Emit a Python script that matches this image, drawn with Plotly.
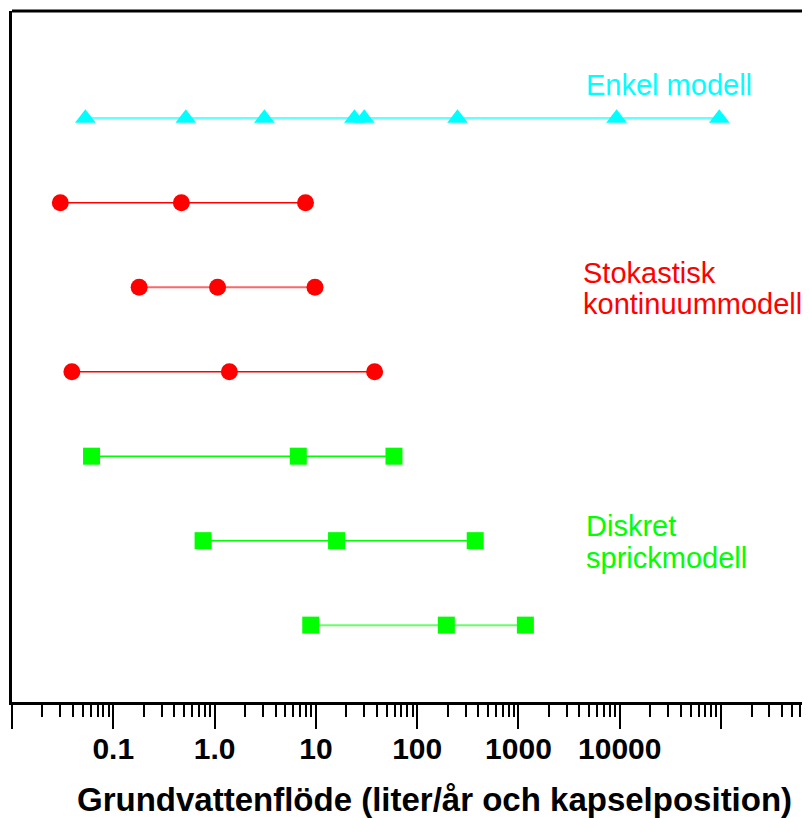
import plotly.graph_objects as go

# Data (liter/år per kapselposition)
enkel = [0.053, 0.52, 3.1, 24, 30, 250, 9300, 96000]
stok_1 = [0.030, 0.47, 7.9]
stok_2 = [0.18, 1.07, 9.8]
stok_3 = [0.039, 1.40, 38]
disk_1 = [0.061, 6.7, 59]
disk_2 = [0.77, 16, 374]
disk_3 = [8.9, 194, 1170]

row_y = {"enkel": 7, "stok_1": 6, "stok_2": 5, "stok_3": 4,
         "disk_1": 3, "disk_2": 2, "disk_3": 1}

tick_vals = [0.01, 0.1, 1, 10, 100, 1000, 10000, 100000]
tick_text = ["", "0.1", "1.0", "10", "100", "1000", "10000", ""]

CYAN = "#00ffff"
RED = "#ff0000"
GREEN = "#00ff00"

fig = go.Figure()


def add_row(vals, y, color, line_color, symbol, size, lw):
    fig.add_trace(go.Scatter(
        x=vals, y=[y] * len(vals), mode="lines+markers",
        line=dict(color=line_color, width=lw),
        marker=dict(color=color, symbol=symbol, size=size),
        showlegend=False, hoverinfo="x"))


add_row(enkel, row_y["enkel"], CYAN, "#66ffff", "triangle-up", 18, 2.5)
add_row(stok_1, row_y["stok_1"], RED, RED, "circle", 17, 1.5)
add_row(stok_2, row_y["stok_2"], RED, "#ff6666", "circle", 17, 2)
add_row(stok_3, row_y["stok_3"], RED, RED, "circle", 17, 1.5)
add_row(disk_1, row_y["disk_1"], GREEN, GREEN, "square", 17, 1.5)
add_row(disk_2, row_y["disk_2"], GREEN, GREEN, "square", 17, 1.5)
add_row(disk_3, row_y["disk_3"], GREEN, "#66ff66", "square", 17, 2)

minor_vals = [m * 10 ** e for e in range(-2, 6) for m in range(2, 10)]

FONT = "Liberation Sans, Arial"

fig.update_xaxes(
    type="log", range=[-2, 5.957],
    tickvals=tick_vals, ticktext=tick_text,
    ticks="outside", ticklen=24, tickwidth=2, tickcolor="black",
    ticklabelstandoff=-6,
    showline=True, linewidth=3, linecolor="black",
    showgrid=False, zeroline=False,
    tickfont=dict(family=FONT, size=30, color="black", weight="bold"),
    minor=dict(tickvals=minor_vals, ticks="outside", ticklen=12, tickwidth=1.5,
               tickcolor="black", showgrid=False),
)
fig.update_yaxes(
    range=[0.09, 8.27], showticklabels=False, ticks="",
    showline=True, linewidth=3, linecolor="black",
    showgrid=False, zeroline=False,
)

fig.add_shape(type="line", xref="paper", yref="paper", x0=0, x1=1, y0=1, y1=1,
              line=dict(color="black", width=3))

lbl = dict(family=FONT, size=29)
PX = 806.0


def label(text, page_x, y, color):
    fig.add_annotation(x=(page_x - 12) / PX, y=y, xref="paper", yref="y",
                       xanchor="left", yanchor="middle", text=text,
                       showarrow=False, font=dict(**lbl, color=color))


label("Enkel modell", 584, 7.39, CYAN)
label("Stokastisk", 581, 5.17, RED)
label("kontinuummodell", 581, 4.80, RED)
label("Diskret", 584, 2.17, GREEN)
label("sprickmodell", 584, 1.80, GREEN)

fig.add_annotation(x=0.5248, y=-0.1418, xref="paper", yref="paper", showarrow=False,
                   xanchor="center", yanchor="middle",
                   text="Grundvattenflöde (liter/år och kapselposition)",
                   font=dict(family=FONT, size=33, color="black", weight="bold"))

fig.update_layout(
    width=810, height=810,
    margin=dict(l=4, r=0, t=3, b=116),
    plot_bgcolor="white", paper_bgcolor="white",
)

fig.write_html("out.html")
